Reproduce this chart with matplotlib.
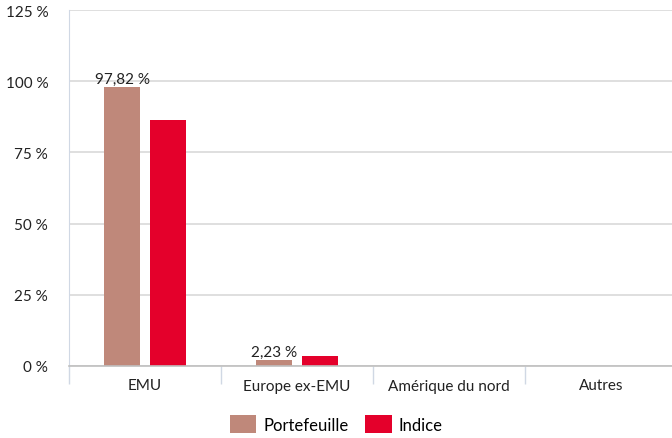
import numpy as np
import matplotlib
matplotlib.use('Agg')
import matplotlib.pyplot as plt

plt.rcParams['font.family'] = ['Lato', 'DejaVu Sans']

categories = ['EMU', 'Europe ex-EMU', 'Amérique du nord', 'Autres']
portefeuille = [97.82, 2.23, 0, 0]
indice = [86.5, 3.4, 0, 0]
labels_pf = ['97,82 %', '2,23 %', '', '']
yticks = [0, 25, 50, 75, 100, 125]

c_pf = '#BF887A'
c_ix = '#E4002B'

fig = plt.figure(figsize=(6.72, 4.39), dpi=100)
ax = fig.add_axes([69 / 672, 1 - 367 / 439, 608 / 672, 356 / 439])

x = np.arange(len(categories))
w = 0.237
off = 0.151
b1 = ax.bar(x - off, portefeuille, w, color=c_pf, label='Portefeuille')
b2 = ax.bar(x + off, indice, w, color=c_ix, label='Indice')

for rect, lab in zip(b1, labels_pf):
    if lab:
        ax.text(rect.get_x() + rect.get_width() / 2, rect.get_height() + 0.4, lab,
                ha='center', va='bottom', fontsize=11, color='#222222')

ax.set_xlim(-0.5, len(categories) - 0.5)
ax.set_ylim(0, 125)
ax.set_yticks(yticks)
ax.set_yticklabels([f'{v} %' for v in yticks], fontsize=11, color='#222222')
ax.yaxis.grid(True, color='#D9D9D9', linewidth=1.2)
ax.set_axisbelow(True)
ax.tick_params(axis='y', length=0, pad=15)

ax.set_xticks(x)
ax.set_xticklabels(categories, fontsize=11, color='#222222')
ax.set_xticks(np.arange(len(categories) + 1) - 0.5, minor=True)
ax.tick_params(axis='x', which='major', length=0, pad=9)
ax.tick_params(axis='x', which='minor', length=13, color='#D0D8E4', width=1)

for s in ['top', 'right']:
    ax.spines[s].set_visible(False)
ax.spines['left'].set_color('#D0D8E4')
ax.spines['bottom'].set_color('#BFBFBF')
ax.spines['bottom'].set_linewidth(1.2)

fig.legend(loc='center', bbox_to_anchor=(0.5, 1 - 425 / 439), ncol=2, frameon=False,
           fontsize=12, handlelength=1.6, handleheight=1.2, columnspacing=1.0,
           handletextpad=0.4)

fig.savefig('out.png', dpi=100)
